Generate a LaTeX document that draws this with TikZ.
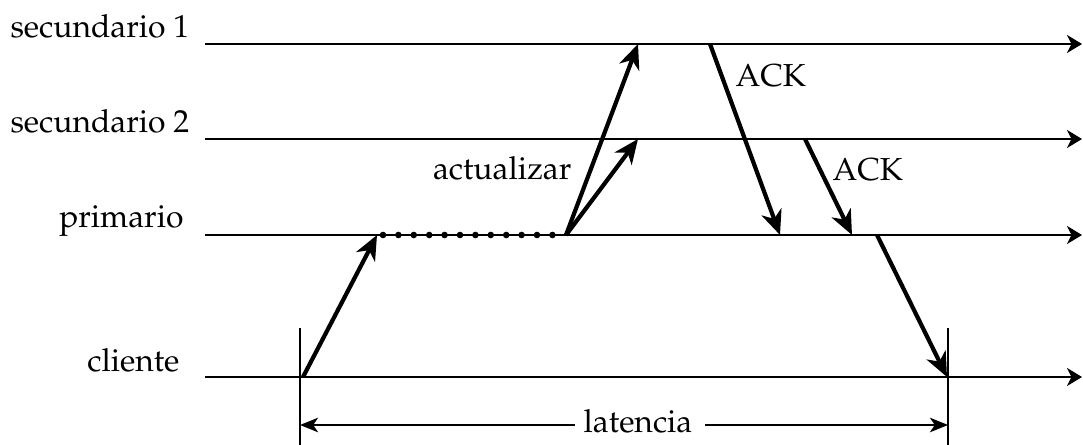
\documentclass[tikz,border=0pt]{standalone}
\usepackage[T1]{fontenc}
\usepackage{mathpazo}
\usetikzlibrary{arrows.meta}

\begin{document}
\begin{tikzpicture}[
  x=0.3333pt, y=-0.3333pt,
  timeline/.style={line width=0.8pt, -{Stealth[length=5pt, width=6pt, inset=1.5pt]}},
  msg/.style={line width=1.4pt, -{Stealth[length=8.2pt, width=7pt, inset=2.5pt]}},
  dimtip/.style={line width=0.8pt, -{Stealth[length=6pt, width=4.8pt, inset=1.6pt]}},
  proc/.style={anchor=base east, inner sep=0pt},
  every node/.style={font=\fontsize{10.6}{12}\selectfont}
]
\useasboundingbox (0,0) rectangle (1083,445);

% Processes
\node[proc] (sec1) at (190,38) {secundario 1};
\node[proc] (sec2) at (190,133) {secundario 2};
\node[proc] (prim) at (184,228) {primario};
\node[proc] (cli)  at (180,372) {cliente};

% Timelines
\coordinate (sec1a) at (205,44);  \coordinate (sec1b) at (1082,44);
\coordinate (sec2a) at (205,139); \coordinate (sec2b) at (1082,139);
\coordinate (prima) at (205,235); \coordinate (primb) at (1082,235);
\coordinate (clia)  at (205,377); \coordinate (clib)  at (1082,377);
\draw[timeline] (sec1a) -- (sec1b);
\draw[timeline] (sec2a) -- (sec2b);
\draw[timeline] (prima) -- (primb);
\draw[timeline] (clia) -- (clib);

% Events
\coordinate (req)   at (303,377);
\coordinate (recv)  at (377,235);
\coordinate (upd)   at (566,235);
\coordinate (upd1)  at (638,44);
\coordinate (upd2)  at (638,139);
\coordinate (ack1s) at (710,44);
\coordinate (ack1r) at (780,235);
\coordinate (ack2s) at (805,139);
\coordinate (ack2r) at (852,235);
\coordinate (resp)  at (877,235);
\coordinate (done)  at (947,377);

% Messages
\draw[msg] (req) -- (recv);
\foreach \i in {0,...,11}
  \fill (383+\i*15.4,235) circle (1.1pt);
\draw[msg] (upd) -- (upd1);
\draw[msg] (upd) -- (upd2);
\draw[msg] (ack1s) -- (ack1r);
\draw[msg] (ack2s) -- (ack2r);
\draw[msg] (resp) -- (done);

\node[anchor=base east, inner sep=0pt] (act) at (572,180) {actualizar};
\node[anchor=base west, inner sep=0pt] (ack1) at (735,87) {ACK};
\node[anchor=base west, inner sep=0pt] (ack2) at (832,181) {ACK};

% Latency
\coordinate (latl) at (300,328); \coordinate (latlb) at (300,445);
\coordinate (latr) at (948,328); \coordinate (latrb) at (948,445);
\coordinate (datl) at (300,425); \coordinate (datr) at (948,425);
\draw[line width=0.8pt] (latl) -- (latlb);
\draw[line width=0.8pt] (latr) -- (latrb);
\node[inner ysep=0pt, inner xsep=0pt, anchor=base] (lat) at (638,432) {latencia};
\coordinate (latw) at (575,425); \coordinate (late) at (705,425);
\draw[dimtip] (latw) -- (datl);
\draw[dimtip] (late) -- (datr);

\end{tikzpicture}
\end{document}
